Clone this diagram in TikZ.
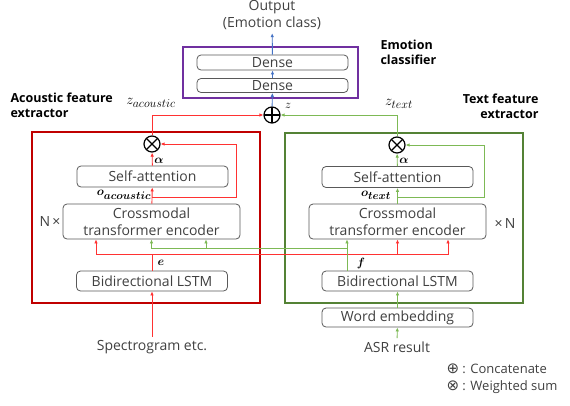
\documentclass[tikz,border=0pt]{standalone}
\usepackage{fontspec}
\usepackage{amsmath}
\usepackage{bm}
\setmainfont{Open Sans}
\newfontfamily\symfont{DejaVu Sans}
\usetikzlibrary{arrows.meta}
\DeclareMathSizes{15}{15}{12}{10}
\DeclareMathSizes{13}{13}{10.5}{9}
\definecolor{txtgray}{RGB}{64,64,64}
\definecolor{boxgray}{RGB}{89,89,89}
\definecolor{framered}{RGB}{192,0,0}
\definecolor{arrred}{RGB}{255,50,50}
\definecolor{framegreen}{RGB}{84,130,53}
\definecolor{arrgreen}{RGB}{125,185,85}
\definecolor{clspurple}{RGB}{112,48,160}
\definecolor{arrblue}{RGB}{68,114,196}
\begin{document}
\begin{tikzpicture}[x=1pt,y=-1pt, every node/.style={font=\fontsize{14}{17}\selectfont,text=txtgray},
  box/.style={draw=boxgray,rounded corners=4pt,minimum width=151pt,minimum height=20pt,align=center,inner sep=0pt,line width=0.8pt},
  frame/.style={line width=2.4pt},
  lab/.style={font=\fontsize{12.5}{15}\selectfont\bfseries,text=black},
  mlab/.style={text=black,inner sep=1pt,font=\fontsize{13}{15}\selectfont},
  zlab/.style={text=black,inner sep=1pt,font=\fontsize{15}{17}\selectfont},
  op/.style={circle,draw=black,line width=1.2pt,minimum size=16pt,inner sep=0pt},
  catop/.style={op,path picture={\draw[line width=1.2pt] (path picture bounding box.north) -- (path picture bounding box.south) (path picture bounding box.west) -- (path picture bounding box.east);}},
  wsop/.style={op,path picture={\draw[line width=1.2pt] (path picture bounding box.north west) -- (path picture bounding box.south east) (path picture bounding box.north east) -- (path picture bounding box.south west);}},
  arr/.style={-{Latex[length=4pt,width=3.5pt]},line width=0.9pt}]
\useasboundingbox (0,0) rectangle (570,405);
\draw[frame,framered] (32,132) rectangle (260,303);
\draw[frame,framegreen] (285,133) rectangle (523,303);
\node[draw=clspurple,frame,minimum width=175pt,minimum height=51pt] (cls) at (270.5,72.5) {};
\node[box,minimum height=15pt] (dense1) at (272.5,62.5) {Dense};
\node[box,minimum height=14pt] (dense2) at (272.5,85.5) {Dense};
\node[align=center] (out) at (272,15) {Output\\(Emotion class)};
\node[lab,anchor=west,align=left] (clslab) at (377,52) {Emotion\\classifier};
\node[lab,anchor=west,align=left] (alab) at (7,105) {Acoustic feature\\extractor};
\node[lab,anchor=east,align=right] (tlab) at (542,106) {Text feature\\extractor};
\node[catop] (cat) at (272,115) {};
\node[wsop] (wsa) at (152,144) {};
\node[wsop] (wst) at (397,145) {};
\node[box,minimum height=21pt] (saa) at (152.5,176.5) {Self-attention};
\node[box,minimum height=21pt] (sat) at (397.5,177) {Self-attention};
\node[box,minimum width=177pt,minimum height=35pt] (cma) at (151.5,221.5) {Crossmodal\\transformer encoder};
\node[box,minimum width=177pt,minimum height=35pt] (cmt) at (397.5,221.5) {Crossmodal\\transformer encoder};
\node[box] (lsa) at (152,281) {Bidirectional LSTM};
\node[box] (lst) at (397.5,281) {Bidirectional LSTM};
\node[box,minimum height=19pt] (we) at (397.5,317.5) {Word embedding};
\node (spec) at (152,347) {Spectrogram etc.};
\node (asr) at (397,347) {ASR result};
\node (na) at (50,221) {N\,×};
\node (nt) at (505,223) {×\,N};
\node[zlab] (za) at (151,103) {$z_{acoustic}$};
\node[zlab] (zt) at (399,104) {$z_{text}$};
\node[mlab] (zz) at (288,106) {$z$};
\node[mlab] (ala) at (159,161) {$\bm{\alpha}$};
\node[mlab] (alt) at (404,161) {$\bm{\alpha}$};
\node[mlab] (oa) at (124,195) {$\bm{o}_{\bm{acoustic}}$};
\node[mlab] (ot) at (376,195) {$\bm{o}_{\bm{text}}$};
\node[mlab] (ee) at (161,263) {$\bm{e}$};
\node[mlab] (ff) at (361,263) {$\bm{f}$};
\node[anchor=west,font=\fontsize{13}{15}\selectfont] (lgc) at (443,369) {{\symfont\fontsize{15}{15}\selectfont ⊕} : Concatenate};
\node[anchor=west,font=\fontsize{13}{15}\selectfont] (lgw) at (443,387) {{\symfont\fontsize{15}{15}\selectfont ⊗} : Weighted sum};
\coordinate (ej) at (152,254);
\coordinate (fj) at (347,248);
\coordinate (oaj) at (152,197);
\coordinate (otj) at (397.5,197);
\coordinate (ra) at (236,197);
\coordinate (rt) at (484,197);
\draw[arr,arrblue] (cat) -- (dense2);
\draw[arr,arrblue] (dense2) -- (dense1);
\draw[arr,arrblue] (dense1) -- (out);
\draw[arr,arrred] (spec) -- (lsa);
\draw[arr,arrred] (cma) -- (saa);
\draw[arr,arrred] (saa) -- (wsa);
\draw[arr,arrred] (oaj) -- (ra) |- (wsa);
\draw[arr,arrred] (wsa) |- (cat);
\draw[arr,arrgreen] (asr) -- (we);
\draw[arr,arrgreen] (we) -- (lst);
\draw[arr,arrgreen] (cmt) -- (sat);
\draw[arr,arrgreen] (sat) -- (wst);
\draw[arr,arrgreen] (otj) -- (rt) |- (wst);
\draw[arr,arrgreen] (wst) |- (cat);
\draw[arr,arrgreen] (fj) -| (cma.south);
\draw[arr,arrgreen] (fj) -| ([xshift=54.5pt]cma.south);
\draw[line width=0.9pt,arrred] (lsa) -- (ej);
\draw[arr,arrred] (ej) -| ([xshift=-55.5pt]cma.south);
\draw[arr,arrred] (ej) -| (cmt.south);
\draw[arr,arrred] (ej) -| ([xshift=50.5pt]cmt.south);
\draw[arr,arrgreen] ([xshift=-50.5pt]lst.north) -- ([xshift=-50.5pt]cmt.south);
\end{tikzpicture}
\end{document}
